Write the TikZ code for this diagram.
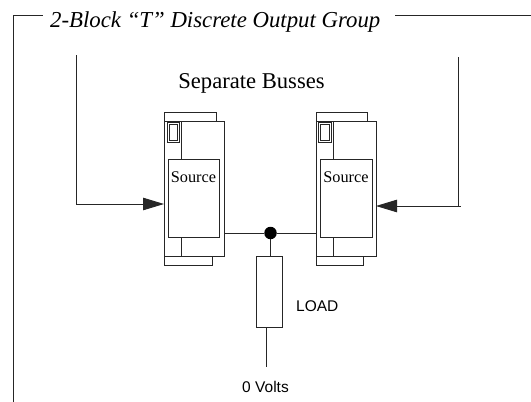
\documentclass[tikz,border=0pt]{standalone}
\usepackage{fontspec}
\setmainfont{Liberation Serif}
\setsansfont{Liberation Sans}
\usetikzlibrary{arrows.meta}
\begin{document}
\begin{tikzpicture}[x=1pt,y=-1pt,
  ln/.style={line width=0.9pt,black!85},
  srcbox/.style={draw,ln,fill=white,minimum width=51pt,minimum height=78pt,inner sep=0pt,outer sep=0pt},
  srclabel/.style={font=\fontsize{16.3}{18}\selectfont},
  sanslabel/.style={font=\sffamily\fontsize{15.5}{18}\selectfont},
  feed/.style={ln,-{Triangle[length=21pt,width=12.5pt]}}
]
\useasboundingbox (0,0) rectangle (531,402);

% frame
\node[anchor=base west,inner sep=0pt,font=\itshape\fontsize{22.8}{26}\selectfont] (title) at (50,27) {2-Block “T” Discrete Output Group};
\coordinate (fbl) at (13,402);
\coordinate (ftl) at (13,15);
\coordinate (ftr) at (531,15);
\draw[ln] (fbl) -- (ftl) -- (43,15);
\draw[ln] (395,15) -- (ftr);

\node[anchor=base,inner sep=0pt,font=\fontsize{22.6}{26}\selectfont] (busses) at (251.5,88) {Separate Busses};

% left module
\draw[ln] (164,121) rectangle (224,256);
\draw[ln] (164,121) -- (164,112) -- (216,112) -- (216,121);
\draw[ln] (164,256) -- (164,265) -- (212,265) -- (212,256);
\draw[ln] (181,121) -- (181,159);
\draw[ln] (181,237) -- (181,256);
\draw[ln] (167,122) rectangle (179,142);
\draw[ln] (169,124) rectangle (177,140);
\node[srcbox] (srcL) at (193.5,198) {};
\node[srclabel,anchor=base] (srcLt) at (193.5,182) {Source};
\coordinate (Lin) at (164,204);
\coordinate (Lout) at (224,233);

% right module
\draw[ln] (316,121) rectangle (376,256);
\draw[ln] (316,121) -- (316,112) -- (367,112) -- (367,121);
\draw[ln] (316,256) -- (316,265) -- (363,265) -- (363,256);
\draw[ln] (333,121) -- (333,159);
\draw[ln] (333,237) -- (333,256);
\draw[ln] (318,122) rectangle (331,142);
\draw[ln] (320,124) rectangle (329,140);
\node[srcbox,minimum width=52pt] (srcR) at (346,198) {};
\node[srclabel,anchor=base] (srcRt) at (346,182) {Source};
\coordinate (Rin) at (376,206);
\coordinate (Rout) at (316,233);

% feeds
\coordinate (Ltop) at (76,55);
\coordinate (Lcorner) at (76,204);
\draw[feed] (Ltop) -- (Lcorner) -- (Lin);
\coordinate (Rtop) at (458,57);
\coordinate (Rcorner) at (458,206);
\draw[ln] (Rcorner) -- (461,206);
\draw[feed] (Rtop) -- (Rcorner) -- (Rin);

% bus and load
\node[circle,fill=black,inner sep=0pt,minimum size=12.5pt] (dot) at (270.5,233) {};
\draw[ln] (Lout) -- (dot) -- (Rout);
\node[draw,ln,minimum width=25.6pt,minimum height=71pt,inner sep=0pt,outer sep=0pt] (load) at (269.5,291.5) {};
\draw[ln] (dot) -- (dot |- load.north);
\coordinate (gnd) at (266.7,367);
\draw[ln] (gnd |- load.south) -- (gnd);
\node[sanslabel,anchor=west,inner sep=0pt] (loadt) at (296,306) {LOAD};
\node[sanslabel,inner sep=0pt] (volts) at (265.5,387) {0 Volts};
\end{tikzpicture}
\end{document}
